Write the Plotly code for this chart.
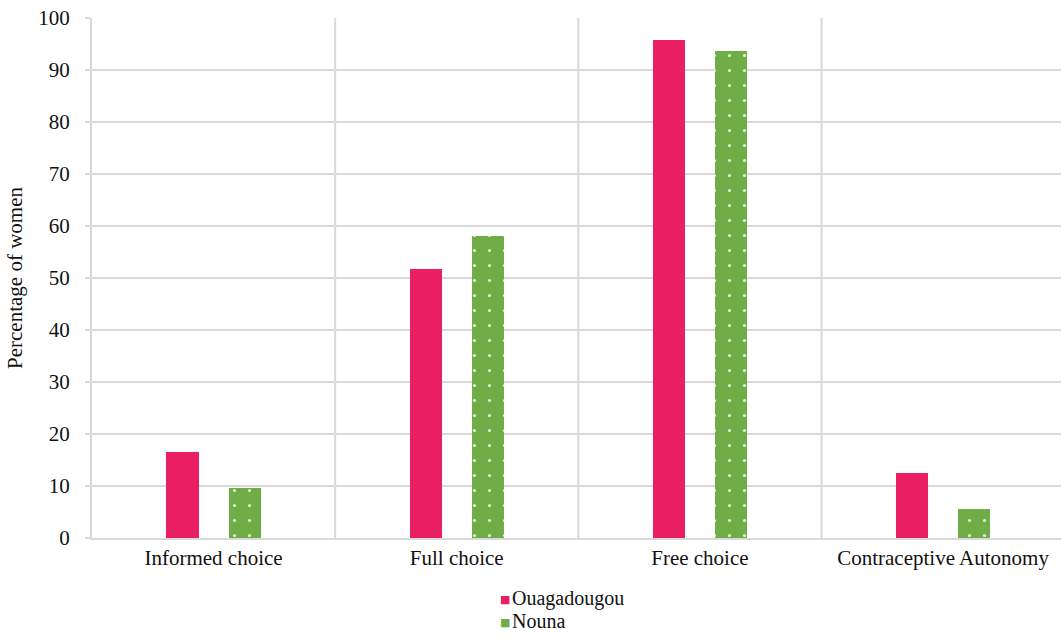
import plotly.graph_objects as go

categories = ["Informed choice", "Full choice", "Free choice", "Contraceptive Autonomy"]
ouagadougou = [16.5, 51.7, 95.7, 12.5]
nouna = [9.6, 58.1, 93.7, 5.6]
y_ticks = [0, 10, 20, 30, 40, 50, 60, 70, 80, 90, 100]
series_names = ["Ouagadougou", "Nouna"]

PINK = "#E91E63"
GREEN = "#70AD47"
GRID = "#D9D9D9"
FONT = "Liberation Serif"

x_pos = list(range(len(categories)))
bar_w = 0.132

L, R, T, B = 92, 0, 18, 99
W, H = 1061, 637
PW, PH = W - L - R, H - T - B

fig = go.Figure()
fig.add_trace(go.Bar(
    name=series_names[0], x=x_pos, y=ouagadougou,
    width=bar_w, offset=-0.128 - bar_w / 2,
    marker=dict(color=PINK, line=dict(width=0)),
))
fig.add_trace(go.Bar(
    name=series_names[1], x=x_pos, y=nouna,
    width=bar_w, offset=0.128 - bar_w / 2,
    marker=dict(
        color=GREEN, line=dict(width=0),
        pattern=dict(shape=".", fgcolor="#E2EFDA", bgcolor=GREEN,
                     size=15, solidity=0.035, fillmode="replace"),
    ),
))

# category separators
for b in [0.5, 1.5, 2.5]:
    fig.add_shape(type="line", xref="x", yref="y", x0=b, x1=b, y0=0, y1=100,
                  line=dict(color=GRID, width=2), layer="below")

# legend drawn as a compact two-line key under the axis
def px_x(px):
    return (px - L) / PW

def px_y(py):
    return (H - B - py) / PH

for name, color, cy in [(series_names[0], PINK, 598), (series_names[1], GREEN, 621)]:
    fig.add_annotation(xref="paper", yref="paper", x=px_x(505), y=px_y(cy + 1),
                       text="■", showarrow=False, xanchor="center", yanchor="middle",
                       font=dict(family="DejaVu Sans", size=11, color=color))
    fig.add_annotation(xref="paper", yref="paper", x=px_x(511), y=px_y(cy),
                       text=name, showarrow=False, xanchor="left", yanchor="middle",
                       borderpad=0,
                       font=dict(family=FONT, size=20, color="#111111"))

fig.update_layout(
    width=W, height=H,
    margin=dict(l=L, r=R, t=T, b=B),
    plot_bgcolor="white", paper_bgcolor="white",
    font=dict(family=FONT, size=21, color="#111111"),
    bargap=0, barmode="overlay",
    showlegend=False,
    xaxis=dict(
        range=[-0.5, 3.485], tickmode="array", tickvals=x_pos, ticktext=categories,
        showgrid=False, zeroline=False, showline=True, linecolor=GRID, linewidth=2,
        ticks="", tickfont=dict(family=FONT, size=21),
    ),
    yaxis=dict(
        range=[0, 100], tickmode="array", tickvals=y_ticks,
        showgrid=True, gridcolor=GRID, gridwidth=2,
        zeroline=False, showline=True, linecolor=GRID, linewidth=2,
        ticks="outside", ticklen=5, tickcolor=GRID, tickwidth=2,
        ticklabelstandoff=11,
        tickfont=dict(family=FONT, size=21),
        title=dict(text="Percentage of women", font=dict(family=FONT, size=21), standoff=10),
    ),
)

fig.write_html("out.html")
